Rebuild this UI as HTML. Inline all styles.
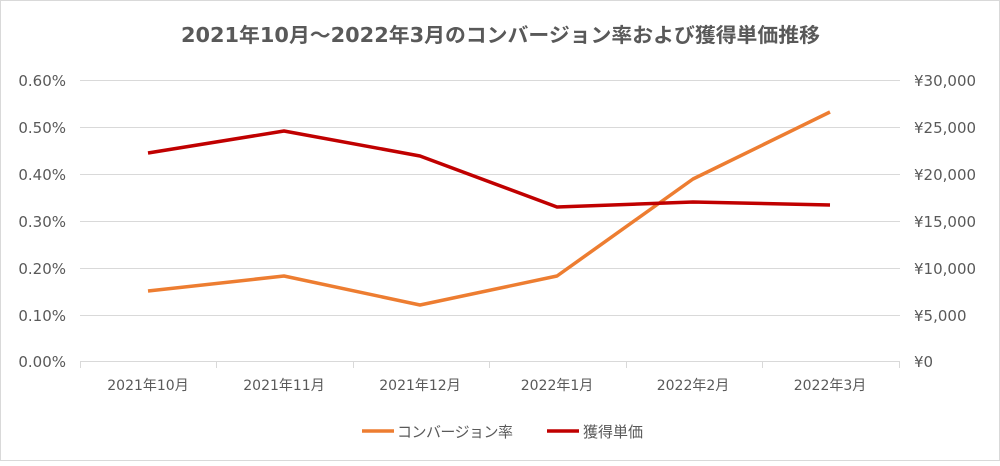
<!DOCTYPE html>
<html><head><meta charset="utf-8"><style>
body{margin:0;background:#fff}
svg text{font-family:"DejaVu Sans","Noto Sans CJK JP",sans-serif;fill:#595959}
</style></head><body>
<svg width="1000" height="461" viewBox="0 0 1000 461" xmlns="http://www.w3.org/2000/svg">
<rect x="0.5" y="0.5" width="999" height="460" fill="#fff" stroke="#d9d9d9"/>
<text x="181" y="42" font-size="20" font-weight="bold" textLength="639" lengthAdjust="spacingAndGlyphs">2021年10月～2022年3月のコンバージョン率および獲得単価推移</text>
<g stroke="#d9d9d9" stroke-width="1">
<line x1="80" x2="900" y1="80.5" y2="80.5"/>
<line x1="80" x2="900" y1="127.5" y2="127.5"/>
<line x1="80" x2="900" y1="174.5" y2="174.5"/>
<line x1="80" x2="900" y1="221.5" y2="221.5"/>
<line x1="80" x2="900" y1="268.5" y2="268.5"/>
<line x1="80" x2="900" y1="315.5" y2="315.5"/>
<line x1="80" x2="900" y1="361.5" y2="361.5"/>
<line x1="80.5" x2="80.5" y1="361" y2="368"/>
<line x1="216.5" x2="216.5" y1="361" y2="368"/>
<line x1="353.5" x2="353.5" y1="361" y2="368"/>
<line x1="489.5" x2="489.5" y1="361" y2="368"/>
<line x1="626.5" x2="626.5" y1="361" y2="368"/>
<line x1="762.5" x2="762.5" y1="361" y2="368"/>
<line x1="899.5" x2="899.5" y1="361" y2="368"/>
</g>
<g font-size="15" text-anchor="end">
<text x="66" y="86">0.60%</text><text x="66" y="133">0.50%</text><text x="66" y="180">0.40%</text><text x="66" y="227">0.30%</text><text x="66" y="274">0.20%</text><text x="66" y="321">0.10%</text><text x="66" y="367">0.00%</text>
</g>
<g font-size="15" text-anchor="start">
<text x="914" y="86">¥30,000</text><text x="914" y="133">¥25,000</text><text x="914" y="180">¥20,000</text><text x="914" y="227">¥15,000</text><text x="914" y="274">¥10,000</text><text x="914" y="321">¥5,000</text><text x="914" y="367">¥0</text>
</g>
<g font-size="14" text-anchor="middle">
<text x="148" y="390">2021年10月</text><text x="284" y="390">2021年11月</text><text x="420" y="390">2021年12月</text><text x="557" y="390">2022年1月</text><text x="693" y="390">2022年2月</text><text x="830" y="390">2022年3月</text>
</g>
<polyline fill="none" stroke="#ed7d31" stroke-width="3.5" stroke-linejoin="round" points="148,291 284,276 420,305 557,276 693,179 830,112"/>
<polyline fill="none" stroke="#c00000" stroke-width="3.5" stroke-linejoin="round" points="148,153 284,131 420,156 557,207 693,202 830,205"/>
<line x1="362" x2="394" y1="431" y2="431" stroke="#ed7d31" stroke-width="3.5"/>
<text x="397" y="437" font-size="15" textLength="116" style="font-family:'Noto Sans CJK JP',sans-serif">コンバージョン率</text>
<line x1="547" x2="579" y1="431" y2="431" stroke="#c00000" stroke-width="3.5"/>
<text x="583" y="437" font-size="15" style="font-family:'Noto Sans CJK JP',sans-serif">獲得単価</text>
</svg>
</body></html>
